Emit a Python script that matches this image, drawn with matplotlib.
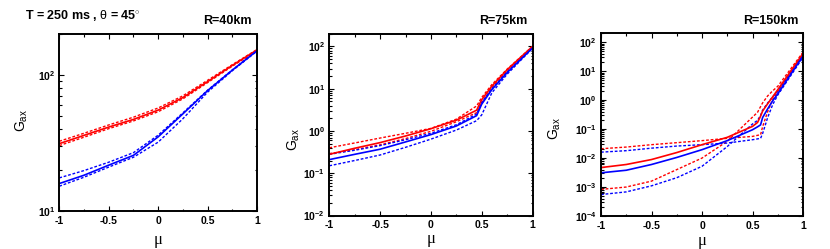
import matplotlib
matplotlib.use("Agg")
import matplotlib.pyplot as plt
from matplotlib.ticker import FixedLocator, LogLocator, NullFormatter, FuncFormatter, MultipleLocator

plt.rcParams['font.family'] = ['Liberation Sans', 'DejaVu Sans']
plt.rcParams['mathtext.fontset'] = 'custom'
plt.rcParams['mathtext.rm'] = 'Liberation Sans'
plt.rcParams['mathtext.bf'] = 'Liberation Sans:bold'
plt.rcParams['mathtext.it'] = 'Liberation Sans:italic'

# ---------------- data ----------------
mu1 = [-1, -0.75, -0.5, -0.25, 0, 0.25, 0.5, 0.75, 1]
p1_red = [31.2, 35.9, 41.3, 47.0, 55.0, 68.0, 89.0, 117.0, 152.0]
p1_red_hi = [32.5, 37.2, 42.8, 48.8, 57.0, 70.0, 91.0, 118.5, 153.0]
p1_red_lo = [30.2, 34.8, 40.2, 45.8, 53.5, 66.5, 87.5, 115.5, 150.0]
p1_blue = [15.9, 18.3, 21.7, 25.6, 35.0, 51.6, 76.4, 108.0, 150.0]
p1_blue_hi = [17.5, 19.8, 22.8, 26.8, 36.0, 52.5, 77.0, 108.5, 150.0]
p1_blue_lo = [15.2, 17.7, 21.0, 24.8, 32.0, 47.5, 74.5, 107.0, 149.0]

mu2 = [-1, -0.75, -0.5, -0.25, 0, 0.25, 0.45, 0.5, 0.6, 0.75, 1]
p2_red = [0.28, 0.39, 0.53, 0.76, 1.13, 1.8, 3.1, 5.5, 11.5, 28.0, 100.0]
p2_red_hi = [0.40, 0.52, 0.68, 0.88, 1.15, 1.9, 3.9, 6.2, 12.5, 29.0, 100.0]
p2_red_lo = [0.29, 0.36, 0.47, 0.66, 0.98, 1.65, 2.7, 4.6, 10.5, 27.0, 98.0]
p2_blue = [0.21, 0.28, 0.37, 0.55, 0.82, 1.31, 2.3, 4.3, 9.5, 24.0, 92.0]
p2_blue_hi = [0.28, 0.35, 0.45, 0.62, 0.88, 1.4, 2.5, 4.8, 10.0, 25.0, 93.0]
p2_blue_lo = [0.15, 0.20, 0.27, 0.41, 0.64, 1.05, 1.75, 2.4, 8.0, 22.0, 90.0]

mu3 = [-1, -0.75, -0.5, -0.25, 0, 0.25, 0.5, 0.55, 0.58, 0.6, 0.65, 0.7, 0.75, 1]
p3_red = [0.0047, 0.0060, 0.0089, 0.0155, 0.029, 0.052, 0.124, 0.17, 0.28, 0.42, 0.75, 1.3, 2.3, 41.0]
p3_red_flat = [0.021, 0.024, 0.029, 0.034, 0.040, 0.048, 0.056, 0.061, 0.064, 0.12, 0.4, 1.05, 2.0, 38.0]
p3_red_low = [0.00083, 0.0010, 0.0016, 0.0040, 0.010, 0.038, 0.26, 0.38, 0.6, 0.8, 1.4, 2.1, 3.0, 45.0]
p3_blue = [0.0031, 0.0038, 0.006, 0.0105, 0.0195, 0.040, 0.095, 0.12, 0.14, 0.25, 0.5, 0.95, 1.65, 33.5]
p3_blue_flat = [0.016, 0.018, 0.022, 0.026, 0.029, 0.033, 0.043, 0.046, 0.048, 0.07, 0.25, 0.7, 1.5, 30.0]
p3_blue_low = [0.00055, 0.00068, 0.0011, 0.0021, 0.0052, 0.025, 0.15, 0.2, 0.3, 0.45, 0.8, 1.3, 2.0, 35.0]

titles = ["R=40km", "R=75km", "R=150km"]
ylims = [(10, 200), (1e-2, 200), (1e-4, 200)]
ymajor = [[10, 100], [1e-2, 1e-1, 1, 10, 100], [1e-4, 1e-3, 1e-2, 1e-1, 1, 10, 100]]
xticks = [-1, -0.5, 0, 0.5, 1]
xticklabels = ["-1", "-0.5", "0", "0.5", "1"]

RED = '#ff0000'
BLUE = '#0000ff'

fig = plt.figure(figsize=(8.3, 2.49), dpi=100)
rects = [
    [59.3 / 830, 1 - 211 / 249, (257 - 59.3) / 830, (211 - 33.7) / 249],
    [329.3 / 830, 1 - 215.5 / 249, (532.5 - 329.3) / 830, (215.5 - 33.7) / 249],
    [601 / 830, 1 - 216 / 249, (803 - 601) / 830, (216 - 33.5) / 249],
]
panels = [
    (mu1, p1_red, p1_red_hi, p1_red_lo, p1_blue, p1_blue_hi, p1_blue_lo),
    (mu2, p2_red, p2_red_hi, p2_red_lo, p2_blue, p2_blue_hi, p2_blue_lo),
    (mu3, p3_red, p3_red_flat, p3_red_low, p3_blue, p3_blue_flat, p3_blue_low),
]
ylab_pos = [(-0.148, 0.51), (-0.134, 0.42), (-0.188, 0.48)]
mu_y = [240, 239, 241]

dash = (0, (2.0, 1.3))

def sci(v, pos):
    import math
    e = int(round(math.log10(v)))
    return r'$\mathbf{10^{%d}}$' % e

for i, (rect, pdata) in enumerate(zip(rects, panels)):
    ax = fig.add_axes(rect)
    mu, r, rh, rl, b, bh, bl = pdata
    ax.plot(mu, rh, color=RED, lw=1.0, ls=dash)
    ax.plot(mu, rl, color=RED, lw=1.0, ls=dash)
    ax.plot(mu, bh, color=BLUE, lw=1.0, ls=dash)
    ax.plot(mu, bl, color=BLUE, lw=1.0, ls=dash)
    ax.plot(mu, r, color=RED, lw=1.2)
    ax.plot(mu, b, color=BLUE, lw=1.2)
    ax.set_yscale('log')
    ax.set_xlim(-1, 1)
    ax.set_ylim(*ylims[i])
    ax.set_xticks(xticks)
    ax.set_xticklabels(xticklabels, fontsize=7.5, fontweight='bold')
    ax.xaxis.set_minor_locator(MultipleLocator(0.25))
    ax.yaxis.set_major_locator(FixedLocator(ymajor[i]))
    ax.yaxis.set_major_formatter(FuncFormatter(sci))
    ax.yaxis.set_minor_locator(LogLocator(base=10, subs=range(2, 10), numticks=20))
    ax.yaxis.set_minor_formatter(NullFormatter())
    for lab in ax.get_yticklabels():
        lab.set_fontsize(7.5)
    ax.tick_params(which='both', direction='in', top=True, right=True, width=0.8)
    ax.tick_params(which='major', length=3.5)
    ax.tick_params(which='minor', length=1.8)
    ax.tick_params(axis='x', pad=3.5)
    ax.tick_params(axis='y', pad=3)
    for s in ax.spines.values():
        s.set_linewidth(1.4)
    ax.set_ylabel(r'$\mathrm{G_{ax}}$', fontsize=10)
    ax.yaxis.set_label_coords(*ylab_pos[i])
    cx = rect[0] + rect[2] / 2
    fig.text(cx, 1 - mu_y[i] / 249, 'μ', ha='center', va='center', fontsize=12,
             family=['Liberation Serif', 'DejaVu Serif'])
    right_px = rect[0] + rect[2]
    fig.text(right_px - 5 / 830, 1 - 15 / 249, titles[i], ha='right', va='top',
             fontsize=9, fontweight='bold')

fig.text(25 / 830, 1 - 8 / 249, r'T = 250 ms , $\mathrm{\theta}$ = 45$^{\circ}$',
         ha='left', va='top', fontsize=9, fontweight='bold')

fig.savefig('out.png', dpi=100)
